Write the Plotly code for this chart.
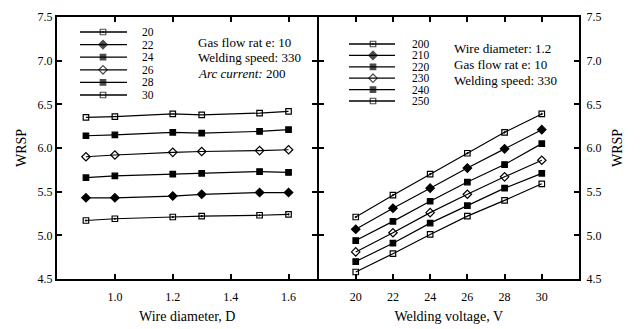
import plotly.graph_objects as go

# ---------------- data ----------------
wire_diameter = [0.9, 1.0, 1.2, 1.3, 1.5, 1.6]
voltage_series = ["20", "22", "24", "26", "28", "30"]
wrsp_left = [
    [5.17, 5.19, 5.21, 5.22, 5.23, 5.24],   # 20
    [5.43, 5.43, 5.45, 5.47, 5.49, 5.49],   # 22
    [5.66, 5.68, 5.70, 5.71, 5.73, 5.72],   # 24
    [5.90, 5.92, 5.95, 5.96, 5.97, 5.98],   # 26
    [6.14, 6.15, 6.18, 6.17, 6.19, 6.21],   # 28
    [6.35, 6.36, 6.39, 6.38, 6.40, 6.42],   # 30
]

welding_voltage = [20, 22, 24, 26, 28, 30]
current_series = ["200", "210", "220", "230", "240", "250"]
wrsp_right = [
    [5.21, 5.46, 5.70, 5.94, 6.18, 6.39],   # 200
    [5.07, 5.31, 5.54, 5.77, 5.99, 6.21],   # 210
    [4.94, 5.16, 5.39, 5.61, 5.81, 6.05],   # 220
    [4.81, 5.03, 5.26, 5.47, 5.67, 5.86],   # 230
    [4.70, 4.91, 5.14, 5.34, 5.54, 5.71],   # 240
    [4.58, 4.79, 5.01, 5.22, 5.40, 5.59],   # 250
]

symbols = ["square-open-dot", "diamond", "square", "diamond-open", "square", "square-open"]
sizes = [5.5, 6.5, 5.5, 6.5, 5.5, 5.5]

left_note = ["Gas flow rat e: 10", "Welding speed: 330", "<i>Arc current:</i> 200"]
right_note = ["Wire diameter: 1.2", "Gas flow rat e: 10", "Welding speed: 330"]

# ---------------- layout constants ----------------
FONT = "Liberation Serif"
W, H = 640, 329
ML, MR, MT, MB = 57, 61, 17, 50
PW, PH = W - ML - MR, H - MT - MB


def fx(px):
    return (px - ML) / PW


def fy(py):
    return (MT + PH - py) / PH


fig = go.Figure()

for i, name in enumerate(voltage_series):
    fig.add_trace(go.Scatter(
        x=wire_diameter, y=wrsp_left[i], mode="lines+markers", name=name,
        xaxis="x", yaxis="y", showlegend=False,
        line=dict(color="black", width=1.2),
        marker=dict(symbol=symbols[i], size=sizes[i], color="black",
                    line=dict(color="black", width=1.2)),
    ))

for i, name in enumerate(current_series):
    fig.add_trace(go.Scatter(
        x=welding_voltage, y=wrsp_right[i], mode="lines+markers", name=name,
        xaxis="x2", yaxis="y2", showlegend=False,
        line=dict(color="black", width=1.2),
        marker=dict(symbol=symbols[i], size=sizes[i], color="black",
                    line=dict(color="black", width=1.2)),
    ))

annotations = []
shapes = []

# hand-drawn legends (keys on an overlay axis spanning the plot area)
legends = [
    dict(names=voltage_series, x0=80, x1=127, xm=103, xt=141, y0=32, dy=12.6),
    dict(names=current_series, x0=349, x1=395, xm=373, xt=411, y0=44, dy=11.4),
]
for lg in legends:
    kx, ky, ks, kz = [], [], [], []
    for i, name in enumerate(lg["names"]):
        py = lg["y0"] + i * lg["dy"]
        shapes.append(dict(type="line", xref="paper", yref="paper",
                           x0=fx(lg["x0"]), x1=fx(lg["x1"]), y0=fy(py), y1=fy(py),
                           line=dict(color="black", width=1.3)))
        kx.append(fx(lg["xm"]))
        ky.append(fy(py))
        ks.append(symbols[i])
        kz.append(sizes[i])
        annotations.append(dict(xref="paper", yref="paper", x=fx(lg["xt"]), y=fy(py),
                                text=name, showarrow=False, xanchor="left", yanchor="middle",
                                borderpad=0,
                                font=dict(family=FONT, size=11.5, color="black")))
    fig.add_trace(go.Scatter(
        x=kx, y=ky, mode="markers", xaxis="x3", yaxis="y3", showlegend=False,
        hoverinfo="skip",
        marker=dict(symbol=ks, size=kz, color="black", line=dict(color="black", width=1.2)),
    ))

for i, t in enumerate(left_note):
    annotations.append(dict(xref="paper", yref="paper", x=fx(197), y=fy(42 + i * 15.5),
                            text=t, showarrow=False, xanchor="left", yanchor="middle",
                            borderpad=0,
                            font=dict(family=FONT, size=13, color="black")))
for i, t in enumerate(right_note):
    annotations.append(dict(xref="paper", yref="paper", x=fx(453), y=fy(48 + i * 16),
                            text=t, showarrow=False, xanchor="left", yanchor="middle",
                            borderpad=0,
                            font=dict(family=FONT, size=13, color="black")))

tickfont = dict(family=FONT, size=12, color="black")
titlefont = dict(family=FONT, size=14, color="black")
common = dict(showgrid=False, zeroline=False, showline=True, linecolor="black",
              linewidth=2, ticks="inside", ticklen=5, tickcolor="black", tickwidth=1.5,
              mirror="ticks", tickfont=tickfont, automargin=False)

fig.update_layout(
    width=W, height=H,
    margin=dict(l=ML, r=MR, t=MT, b=MB, autoexpand=False),
    paper_bgcolor="white", plot_bgcolor="rgba(0,0,0,0)",
    showlegend=False,
    xaxis=dict(domain=[0, 0.499], anchor="y", range=[0.8, 1.7],
               tickvals=[1.0, 1.2, 1.4, 1.6], ticktext=["1.0", "1.2", "1.4", "1.6"],
               ticklabelstandoff=6,
               title=dict(text="Wire diameter, D", font=titlefont, standoff=8), **common),
    yaxis=dict(domain=[0, 1], anchor="x", range=[4.5, 7.5], dtick=0.5, tickformat=".1f",
               title=dict(text="WRSP", font=titlefont, standoff=8), **common),
    xaxis2=dict(domain=[0.501, 1], anchor="y2", range=[18, 32],
                tickvals=welding_voltage, ticklabelstandoff=6,
                title=dict(text="Welding voltage, V", font=titlefont, standoff=8), **common),
    yaxis2=dict(domain=[0, 1], anchor="x2", side="right", range=[4.5, 7.5], dtick=0.5,
                tickformat=".1f", ticklabelstandoff=3,
                title=dict(text="WRSP", font=titlefont, standoff=12), **common),
    xaxis3=dict(domain=[0, 1], anchor="y3", range=[0, 1], visible=False),
    yaxis3=dict(domain=[0, 1], anchor="x3", range=[0, 1], visible=False),
    shapes=shapes,
    annotations=annotations,
)

fig.write_html("out.html")
